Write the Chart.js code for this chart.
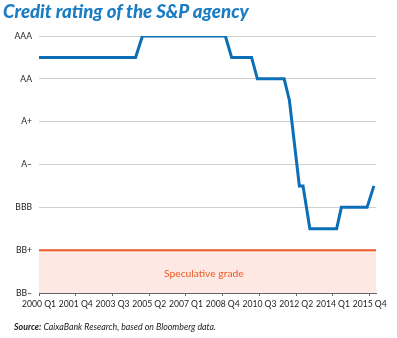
<!DOCTYPE html>
<html>
<head>
<meta charset="utf-8">
<script src="https://cdn.jsdelivr.net/npm/chart.js@4"></script>
<style>
  html, body { margin: 0; padding: 0; background: #fff; }
  #wrap { position: relative; width: 397px; height: 338px; overflow: hidden; }
  #chart { position: absolute; left: 0; top: 0; }
  .title {
    position: absolute; left: 3px; top: 0px;
    font: italic 900 18.6px Lato, "Liberation Sans", Arial, sans-serif;
    color: #1a7dc4; white-space: nowrap;
  }
  .source {
    position: absolute; left: 14px; top: 321px;
    font: italic 8.8px Lato, "Liberation Sans", Arial, sans-serif;
    color: #222; white-space: nowrap;
  }
  .source b { font-weight: bold; }
</style>
</head>
<body>
<div id="wrap">
  <canvas id="chart" width="397" height="338"></canvas>
  <div class="title">Credit rating of the S&amp;P agency</div>
  <div class="source"><b>Source:</b> CaixaBank Research, based on Bloomberg data.</div>
</div>
<script>
// notches: BB- = 0 ... AAA = 12, quarters counted from 2000 Q1 = 0
const ratingLabels = ["BB–", "BB", "BB+", "BBB–", "BBB", "BBB+", "A–", "A", "A+", "AA–", "AA", "AA+", "AAA"];
const shownRatings = [0, 2, 4, 6, 8, 10, 12];
const tickQuarters = [0, 7, 14, 21, 28, 35, 42, 49, 56, 63];
const tickLabels = ["2000 Q1", "2001 Q4", "2003 Q3", "2005 Q2", "2007 Q1", "2008 Q4", "2010 Q3", "2012 Q2", "2014 Q1", "2015 Q4"];

const periods = [0, 18.4, 19.7, 35.5, 36.7, 40.5, 41.6, 46.7, 47.7, 49.6, 50.3, 51.6, 56.7, 57.6, 62.5, 63.8];
const ratings = [11, 11, 12, 12, 11, 11, 10, 10, 9, 5, 5, 3, 3, 4, 4, 5];

const speculativeLimit = 2; // BB+
const xMax = 64.2;

const axisFont = { family: "Lato, 'Liberation Sans', Arial, sans-serif", size: 8.6 };

const bandLabel = {
  id: "bandLabel",
  afterDatasetsDraw(chart) {
    const { ctx, scales } = chart;
    const x = scales.x.getPixelForValue(31.4);
    const y = scales.y.getPixelForValue(speculativeLimit / 2) + 2.5;
    ctx.save();
    ctx.font = "10.3px Lato, 'Liberation Sans', Arial, sans-serif";
    ctx.fillStyle = "#ec5a24";
    ctx.textAlign = "center";
    ctx.textBaseline = "middle";
    ctx.fillText("Speculative grade", x, y);
    ctx.restore();
  }
};

new Chart(document.getElementById("chart"), {
  type: "line",
  data: {
    datasets: [
      {
        data: periods.map((q, i) => ({ x: q, y: ratings[i] })),
        borderColor: "#0b6fb8",
        borderWidth: 3,
        pointRadius: 0,
        tension: 0,
        fill: false,
        order: 1
      },
      {
        data: [{ x: 0, y: speculativeLimit }, { x: xMax, y: speculativeLimit }],
        borderColor: "#ec5a24",
        borderWidth: 2,
        backgroundColor: "#fde8e4",
        pointRadius: 0,
        fill: "origin",
        order: 2
      }
    ]
  },
  options: {
    responsive: false,
    animation: false,
    layout: { padding: { top: 36, right: 21, bottom: 25, left: 0 } },
    plugins: {
      legend: { display: false },
      tooltip: { enabled: false }
    },
    scales: {
      x: {
        type: "linear",
        min: 0,
        max: xMax,
        afterBuildTicks: (s) => { s.ticks = tickQuarters.map((v) => ({ value: v })); },
        afterFit: (s) => { s.height = 20; },
        ticks: {
          autoSkip: false,
          maxRotation: 0,
          padding: 3,
          color: "#222",
          font: axisFont,
          callback: (v) => tickLabels[tickQuarters.indexOf(v)]
        },
        grid: { drawOnChartArea: false, drawTicks: true, tickLength: 3, color: "#666" },
        border: { display: true, color: "#666", width: 1 }
      },
      y: {
        min: 0,
        max: 12,
        afterBuildTicks: (s) => { s.ticks = shownRatings.map((v) => ({ value: v })); },
        afterFit: (s) => { s.width = 39; },
        ticks: {
          padding: 7,
          color: "#222",
          font: axisFont,
          callback: (v) => ratingLabels[v]
        },
        grid: { color: "#cfcfcf", drawTicks: false, lineWidth: 1 },
        border: { display: false }
      }
    }
  },
  plugins: [bandLabel]
});
</script>
</body>
</html>
